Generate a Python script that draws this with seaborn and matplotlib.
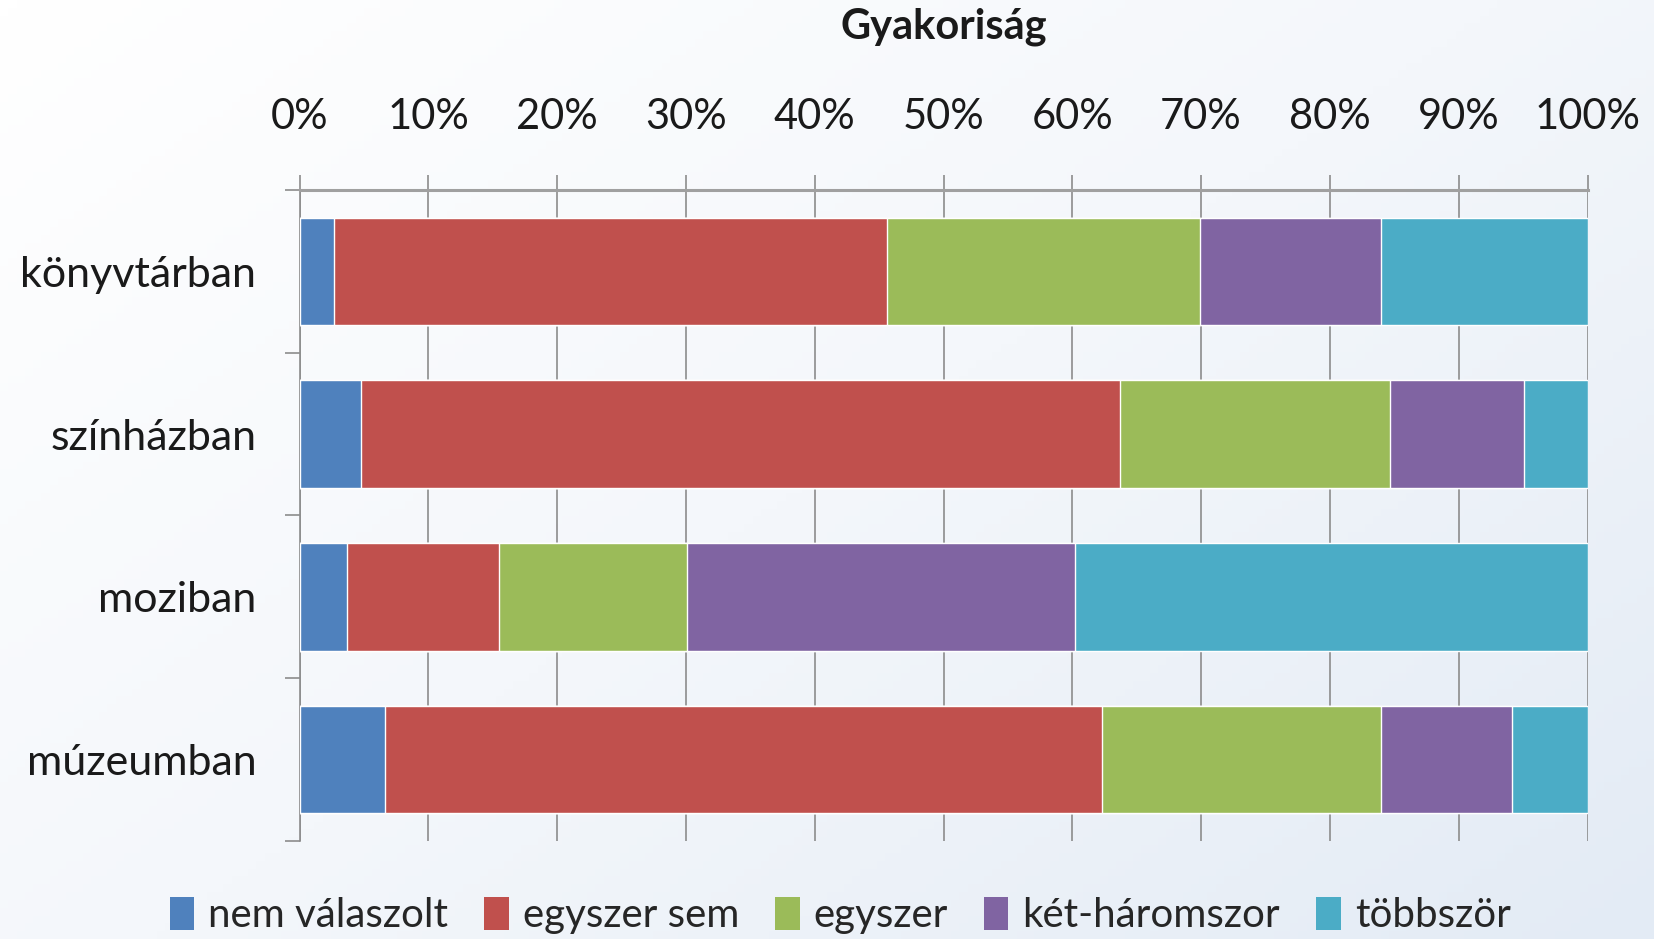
import numpy as np
import pandas as pd
import matplotlib
matplotlib.use("Agg")
import matplotlib.pyplot as plt
import matplotlib.ticker as mtick
from matplotlib.patches import Patch
import seaborn as sns

# adatok (leolvasva az ábráról, %)
kategoriak = ["könyvtárban", "színházban", "moziban", "múzeumban"]
sorozatok = ["nem válaszolt", "egyszer sem", "egyszer", "két-háromszor", "többször"]
nem_valaszolt = [2.7, 4.8, 3.7, 6.6]
egyszer_sem = [42.9, 58.9, 11.8, 55.7]
egyszer = [24.3, 21.0, 14.6, 21.7]
ket_haromszor = [14.1, 10.4, 30.1, 10.1]
tobbszor = [16.0, 4.9, 39.8, 5.9]
szinek = ["#4F81BD", "#C0504D", "#9BBB59", "#8064A2", "#4BACC6"]

sns.set_theme(style="white")
plt.rcParams["font.family"] = ["Lato", "DejaVu Sans"]

df = pd.DataFrame({
    "kategoria": kategoriak,
    sorozatok[0]: nem_valaszolt,
    sorozatok[1]: egyszer_sem,
    sorozatok[2]: egyszer,
    sorozatok[3]: ket_haromszor,
    sorozatok[4]: tobbszor,
})
kum = df[sorozatok].cumsum(axis=1)
kum["kategoria"] = df["kategoria"]

fig = plt.figure(figsize=(16.54, 9.39), dpi=100)

# halvany hatter szinatmenet
bg = fig.add_axes([0, 0, 1, 1], zorder=-10)
gx, gy = np.meshgrid(np.linspace(0, 1, 200), np.linspace(0, 1, 120))
grad = 0.55 * gx + 0.45 * gy
bg.imshow(grad, cmap=matplotlib.colors.LinearSegmentedColormap.from_list(
    "bg", ["#ffffff", "#f4f7fb", "#e3ebf5"]), aspect="auto", extent=[0, 1, 0, 1])
bg.axis("off")

ax = fig.add_axes([0.1811, 0.1044, 0.7787, 0.6933])
ax.set_facecolor("none")

# egymasra rakott oszlopok: jobbrol balra rajzolva
for s, c in reversed(list(zip(sorozatok, szinek))):
    sns.barplot(data=kum, x=s, y="kategoria", order=kategoriak, color=c,
                orient="h", width=0.66, saturation=1, ax=ax, zorder=3)

ax.set_xlim(0, 100)
ax.set_ylim(3.5, -0.5)
ax.xaxis.tick_top()
ax.set_xticks(np.arange(0, 101, 10))
ax.xaxis.set_major_formatter(mtick.PercentFormatter(decimals=0))
ax.tick_params(axis="x", which="major", direction="out", length=11, width=1.2,
               color="#8c8c8c", labelsize=30, pad=28, labelcolor="#1a1a1a")
ax.grid(axis="x", color="#8c8c8c", linewidth=1.2, zorder=0)
ax.set_axisbelow(True)

ax.set_yticks(range(len(kategoriak)), labels=kategoriak)
ax.set_yticks(np.arange(-0.5, len(kategoriak)), minor=True)
ax.tick_params(axis="y", which="major", length=0, labelsize=31, pad=31,
               labelcolor="#1a1a1a")
ax.tick_params(axis="y", which="minor", direction="out", length=11, width=1.2,
               color="#8c8c8c", left=True)

ax.set_xlabel("")
ax.set_ylabel("")
for side in ["right", "bottom"]:
    ax.spines[side].set_visible(False)
ax.spines["top"].set_color("#a0a0a0")
ax.spines["top"].set_linewidth(2.2)
ax.spines["left"].set_color("#8c8c8c")
ax.spines["left"].set_linewidth(1.2)

fig.text(0.5705, 0.972, "Gyakoriság", ha="center", va="center",
         fontsize=30, fontweight="bold", color="#1a1a1a")

kezek = [Patch(facecolor=c, edgecolor="none", label=s) for s, c in zip(sorozatok, szinek)]
fig.legend(handles=kezek, loc="center", bbox_to_anchor=(0.508, 0.025), ncol=5,
           frameon=False, fontsize=29, handlelength=0.6, handleheight=0.9,
           handletextpad=0.35, columnspacing=0.9)

fig.savefig("out.png", dpi=100)
